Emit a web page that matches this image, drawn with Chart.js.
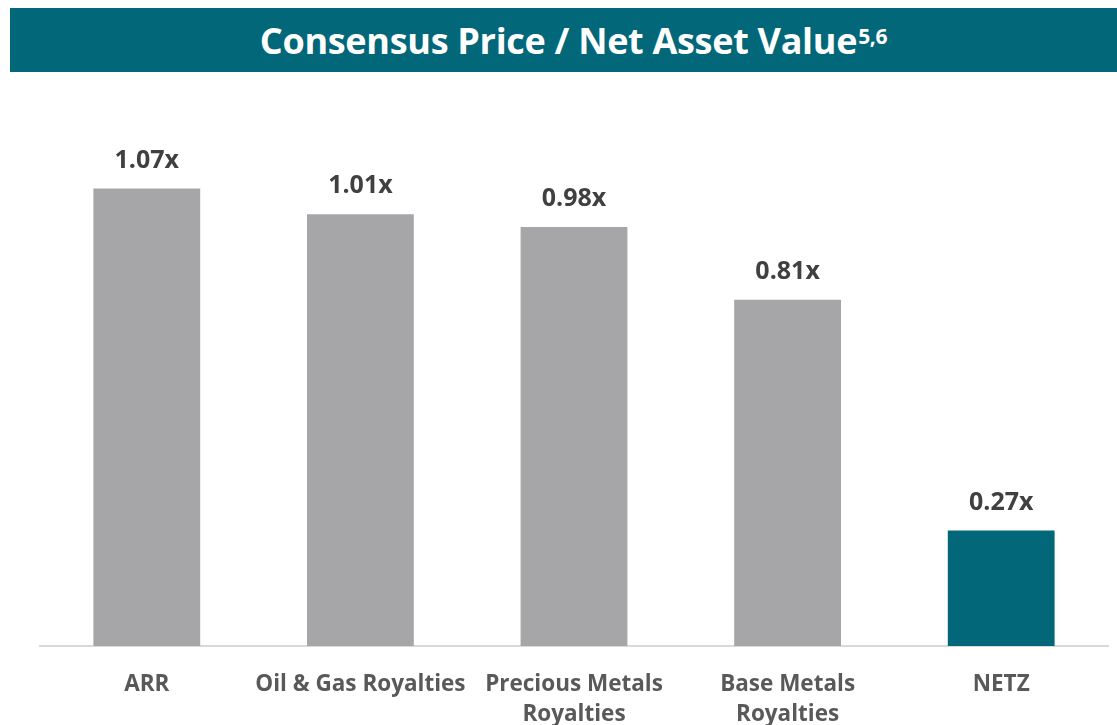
<!DOCTYPE html>
<html>
<head>
<meta charset="utf-8">
<script src="https://cdn.jsdelivr.net/npm/chart.js@4.4.1/dist/chart.umd.min.js"></script>
<style>
  html, body { margin: 0; padding: 0; background: #fff; overflow: hidden; }
  #wrap { position: relative; width: 1117px; height: 725px; }
  #banner {
    position: absolute; left: 10px; top: 8px; width: 1107px; height: 64px;
    background: #026779; color: #fff;
    font-family: "Open Sans", sans-serif; font-weight: bold; font-size: 36px;
    display: flex; align-items: center; justify-content: center;
    padding-left: 20px; box-sizing: border-box; letter-spacing: -0.3px;
  }
  #banner sup { font-size: 21px; position: relative; top: -4px; margin-left: 1px; }
  #chart-pnav { position: absolute; left: 0; top: 0; }
</style>
</head>
<body>
<div id="wrap">
  <canvas id="chart-pnav" width="1117" height="725"></canvas>
  <div id="banner">Consensus Price / Net Asset Value<sup>5,6</sup></div>
</div>
<script>
// data
const categories = ['ARR', 'Oil & Gas Royalties', ['Precious Metals', 'Royalties'], ['Base Metals', 'Royalties'], 'NETZ'];
const pnav = [1.07, 1.01, 0.98, 0.81, 0.27];
const barColors = ['#a6a6a8', '#a6a6a8', '#a6a6a8', '#a6a6a8', '#026779'];

// labels above the bars ("1.07x")
const valueLabels = {
    id: 'valueLabels',
    afterDatasetsDraw(chart) {
        const ctx = chart.ctx;
        const meta = chart.getDatasetMeta(0);
        ctx.save();
        ctx.font = 'bold 25px "Open Sans"';
        ctx.fillStyle = '#404040';
        ctx.textAlign = 'center';
        ctx.textBaseline = 'middle';
        meta.data.forEach((bar, i) => {
            ctx.fillText(pnav[i].toFixed(2) + 'x', bar.x, bar.y - 28);
        });
        ctx.restore();
    }
};

var ctx_pnav = document.getElementById('chart-pnav').getContext('2d');
var chart_pnav = new Chart(ctx_pnav, {
    type: 'bar',
    data: {
        labels: categories,
        datasets: [{
            data: pnav,
            backgroundColor: barColors,
            borderWidth: 0,
            categoryPercentage: 1,
            barPercentage: 0.5
        }]
    },
    options: {
        responsive: false,
        animation: false,
        layout: { padding: { top: 133, left: 40, right: 9, bottom: 0 } },
        plugins: { legend: { display: false }, tooltip: { enabled: false } },
        scales: {
            y: { display: false, min: 0, max: 1.2 },
            x: {
                grid: { display: false, drawTicks: false },
                border: { display: true, color: '#d9d9d9', width: 2 },
                ticks: {
                    color: '#595959',
                    padding: 23,
                    maxRotation: 0,
                    autoSkip: false,
                    font: { family: '"Open Sans"', weight: 'bold', size: 22.5, lineHeight: 1.35 }
                },
                afterFit(scale) { scale.height = 79; }
            }
        }
    },
    plugins: [valueLabels]
});
</script>
</body>
</html>
